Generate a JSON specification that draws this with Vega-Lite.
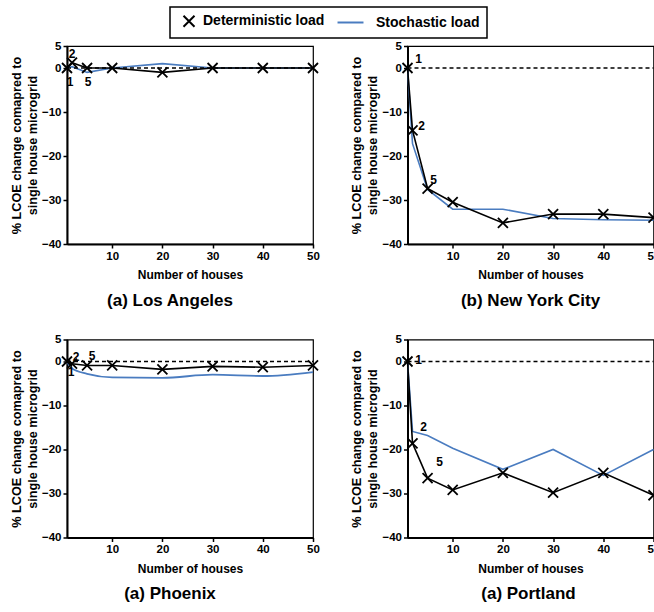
{
  "$schema": "https://vega.github.io/schema/vega-lite/v6.json",
  "padding": {"left": 9, "top": 6, "right": 0, "bottom": 0},
  "config": {
    "font": "Liberation Sans",
    "view": {"stroke": "black", "strokeWidth": 1.2},
    "axis": {
      "grid": false,
      "domainColor": "black",
      "domainWidth": 2,
      "tickColor": "black",
      "tickWidth": 1.5,
      "tickSize": 4,
      "labelColor": "black",
      "labelFontSize": 11.5,
      "labelFontWeight": "bold",
      "labelPadding": 2,
      "labelFlush": false,
      "titleColor": "black",
      "titleFontSize": 12,
      "titleFontWeight": "bold"
    },
    "axisX": {"titlePadding": 8},
    "axisY": {"titlePadding": 2, "titleLineHeight": 16, "titleFontSize": 12.7},
    "title": {"fontSize": 17, "fontWeight": "bold", "color": "black", "offset": 12},
    "legend": {
      "labelFontSize": 14,
      "labelFontWeight": "bold",
      "labelColor": "black",
      "symbolSize": 121,
      "symbolStrokeWidth": 2,
      "labelOffset": 7,
      "columnPadding": 8,
      "padding": 7,
      "strokeColor": "black",
      "strokeWidth": 1.5,
      "fillColor": "white"
    }
  },
  "datasets": {
    "lcoe": [
      {"city": "Los Angeles", "series": "Deterministic load", "houses": 1, "value": 0},
      {"city": "Los Angeles", "series": "Deterministic load", "houses": 2, "value": 1.2},
      {"city": "Los Angeles", "series": "Deterministic load", "houses": 5, "value": 0},
      {"city": "Los Angeles", "series": "Deterministic load", "houses": 10, "value": 0},
      {"city": "Los Angeles", "series": "Deterministic load", "houses": 20, "value": -1},
      {"city": "Los Angeles", "series": "Deterministic load", "houses": 30, "value": 0},
      {"city": "Los Angeles", "series": "Deterministic load", "houses": 40, "value": 0},
      {"city": "Los Angeles", "series": "Deterministic load", "houses": 50, "value": 0},
      {"city": "Los Angeles", "series": "Stochastic load", "houses": 1, "value": 0},
      {"city": "Los Angeles", "series": "Stochastic load", "houses": 2, "value": 0.3},
      {"city": "Los Angeles", "series": "Stochastic load", "houses": 5, "value": -1},
      {"city": "Los Angeles", "series": "Stochastic load", "houses": 10, "value": 0},
      {"city": "Los Angeles", "series": "Stochastic load", "houses": 20, "value": 1},
      {"city": "Los Angeles", "series": "Stochastic load", "houses": 30, "value": 0},
      {"city": "Los Angeles", "series": "Stochastic load", "houses": 40, "value": 0},
      {"city": "Los Angeles", "series": "Stochastic load", "houses": 50, "value": 0},
      {"city": "New York City", "series": "Deterministic load", "houses": 1, "value": 0},
      {"city": "New York City", "series": "Deterministic load", "houses": 2, "value": -14.2},
      {"city": "New York City", "series": "Deterministic load", "houses": 5, "value": -27.4},
      {"city": "New York City", "series": "Deterministic load", "houses": 10, "value": -30.5},
      {"city": "New York City", "series": "Deterministic load", "houses": 20, "value": -35.2},
      {"city": "New York City", "series": "Deterministic load", "houses": 30, "value": -33.2},
      {"city": "New York City", "series": "Deterministic load", "houses": 40, "value": -33.2},
      {"city": "New York City", "series": "Deterministic load", "houses": 50, "value": -34},
      {"city": "New York City", "series": "Stochastic load", "houses": 1, "value": 0},
      {"city": "New York City", "series": "Stochastic load", "houses": 2, "value": -17.2},
      {"city": "New York City", "series": "Stochastic load", "houses": 5, "value": -27.6},
      {"city": "New York City", "series": "Stochastic load", "houses": 10, "value": -32.1},
      {"city": "New York City", "series": "Stochastic load", "houses": 20, "value": -32.1},
      {"city": "New York City", "series": "Stochastic load", "houses": 30, "value": -34.2},
      {"city": "New York City", "series": "Stochastic load", "houses": 40, "value": -34.5},
      {"city": "New York City", "series": "Stochastic load", "houses": 50, "value": -34.6},
      {"city": "Phoenix", "series": "Deterministic load", "houses": 1, "value": 0},
      {"city": "Phoenix", "series": "Deterministic load", "houses": 2, "value": -0.5},
      {"city": "Phoenix", "series": "Deterministic load", "houses": 5, "value": -0.9},
      {"city": "Phoenix", "series": "Deterministic load", "houses": 10, "value": -0.9},
      {"city": "Phoenix", "series": "Deterministic load", "houses": 20, "value": -1.8},
      {"city": "Phoenix", "series": "Deterministic load", "houses": 30, "value": -1.1},
      {"city": "Phoenix", "series": "Deterministic load", "houses": 40, "value": -1.3},
      {"city": "Phoenix", "series": "Deterministic load", "houses": 50, "value": -0.9},
      {"city": "Phoenix", "series": "Stochastic load", "houses": 1, "value": 0},
      {"city": "Phoenix", "series": "Stochastic load", "houses": 2, "value": -1.6},
      {"city": "Phoenix", "series": "Stochastic load", "houses": 5, "value": -2.8},
      {"city": "Phoenix", "series": "Stochastic load", "houses": 10, "value": -3.6},
      {"city": "Phoenix", "series": "Stochastic load", "houses": 20, "value": -3.7},
      {"city": "Phoenix", "series": "Stochastic load", "houses": 30, "value": -3.0},
      {"city": "Phoenix", "series": "Stochastic load", "houses": 40, "value": -3.3},
      {"city": "Phoenix", "series": "Stochastic load", "houses": 50, "value": -2.4},
      {"city": "Portland", "series": "Deterministic load", "houses": 1, "value": 0},
      {"city": "Portland", "series": "Deterministic load", "houses": 2, "value": -18.6},
      {"city": "Portland", "series": "Deterministic load", "houses": 5, "value": -26.5},
      {"city": "Portland", "series": "Deterministic load", "houses": 10, "value": -29.2},
      {"city": "Portland", "series": "Deterministic load", "houses": 20, "value": -25.3},
      {"city": "Portland", "series": "Deterministic load", "houses": 30, "value": -29.8},
      {"city": "Portland", "series": "Deterministic load", "houses": 40, "value": -25.3},
      {"city": "Portland", "series": "Deterministic load", "houses": 50, "value": -30.4},
      {"city": "Portland", "series": "Stochastic load", "houses": 1, "value": 0},
      {"city": "Portland", "series": "Stochastic load", "houses": 2, "value": -15.9},
      {"city": "Portland", "series": "Stochastic load", "houses": 5, "value": -16.8},
      {"city": "Portland", "series": "Stochastic load", "houses": 10, "value": -19.7},
      {"city": "Portland", "series": "Stochastic load", "houses": 20, "value": -24.5},
      {"city": "Portland", "series": "Stochastic load", "houses": 30, "value": -20},
      {"city": "Portland", "series": "Stochastic load", "houses": 40, "value": -25.9},
      {"city": "Portland", "series": "Stochastic load", "houses": 50, "value": -20}
    ]
  },
  "columns": 2,
  "bounds": "flush",
  "spacing": {"row": 95.5, "column": 94.5},
  "concat": [
    {
      "width": 246,
      "height": 198,
      "data": {"name": "lcoe"},
      "transform": [{"filter": "datum.city === 'Los Angeles'"}],
      "title": {"text": "(a) Los Angeles", "orient": "bottom", "frame": "group", "dx": -20},
      "encoding": {
        "x": {"field": "houses", "type": "quantitative", "scale": {"domain": [1, 50], "nice": false, "zero": false}, "axis": {"values": [10, 20, 30, 40, 50], "title": "Number of houses"}},
        "y": {"field": "value", "type": "quantitative", "scale": {"domain": [-40, 5], "nice": false}, "axis": {"values": [5, 0, -10, -20, -30, -40], "title": ["% LCOE change comapred to", "single house microgrid"]}}
      },
      "layer": [
        {"transform": [{"filter": "datum.series === 'Stochastic load'"}], "mark": {"type": "line", "color": "#4a7cc0", "strokeWidth": 1.6}},
        {"transform": [{"filter": "datum.series === 'Deterministic load'"}], "mark": {"type": "line", "color": "black", "strokeWidth": 1.6}},
        {"transform": [{"filter": "datum.series === 'Deterministic load' && datum.houses === 1"}], "mark": {"type": "rule", "color": "black", "strokeDash": [4, 3], "strokeWidth": 1.5}, "encoding": {"x": {"datum": 1}, "x2": {"datum": 50}, "y": {"datum": 0}}},
        {
          "transform": [{"filter": "datum.series === 'Deterministic load'"}],
          "mark": {"type": "point", "filled": false, "size": 100, "strokeWidth": 1.8, "opacity": 1},
          "encoding": {
            "shape": {"field": "series", "type": "nominal", "scale": {"domain": ["Deterministic load", "Stochastic load"], "range": ["M-1,-1L1,1M-1,1L1,-1", "M-4.45,0L0.27,0"]}, "legend": {"title": "\u00a0", "titleOrient": "left", "titleFontSize": 1, "titlePadding": 5, "orient": "none", "legendX": 103, "legendY": -39, "direction": "horizontal", "labelExpr": "datum.label === 'Stochastic load' ? datum.label + '\u00a0\u00a0\u00a0' : datum.label"}},
            "color": {"field": "series", "type": "nominal", "scale": {"domain": ["Deterministic load", "Stochastic load"], "range": ["black", "#4a7cc0"]}, "legend": {"title": "\u00a0", "titleOrient": "left", "titleFontSize": 1, "titlePadding": 5, "orient": "none", "legendX": 103, "legendY": -39, "direction": "horizontal", "labelExpr": "datum.label === 'Stochastic load' ? datum.label + '\u00a0\u00a0\u00a0' : datum.label"}}
          }
        },
        {"transform": [{"filter": "datum.series === 'Deterministic load' && datum.houses === 1"}], "mark": {"type": "text", "dx": 3, "dy": 14, "fontSize": 12, "fontWeight": "bold", "color": "black"}, "encoding": {"text": {"field": "houses", "type": "quantitative"}}},
        {"transform": [{"filter": "datum.series === 'Deterministic load' && datum.houses === 2"}], "mark": {"type": "text", "dx": 0, "dy": -9, "fontSize": 12, "fontWeight": "bold", "color": "black"}, "encoding": {"text": {"field": "houses", "type": "quantitative"}}},
        {"transform": [{"filter": "datum.series === 'Deterministic load' && datum.houses === 5"}], "mark": {"type": "text", "dx": 1, "dy": 14, "fontSize": 12, "fontWeight": "bold", "color": "black"}, "encoding": {"text": {"field": "houses", "type": "quantitative"}}}
      ]
    },
    {
      "width": 246,
      "height": 198,
      "data": {"name": "lcoe"},
      "transform": [{"filter": "datum.city === 'New York City'"}],
      "title": {"text": "(b) New York City", "orient": "bottom", "frame": "group", "dx": 0},
      "encoding": {
        "x": {"field": "houses", "type": "quantitative", "scale": {"domain": [1, 50], "nice": false, "zero": false}, "axis": {"values": [10, 20, 30, 40, 50], "title": "Number of houses"}},
        "y": {"field": "value", "type": "quantitative", "scale": {"domain": [-40, 5], "nice": false}, "axis": {"values": [5, 0, -10, -20, -30, -40], "title": ["% LCOE change compared to", "single house microgrid"]}}
      },
      "layer": [
        {"transform": [{"filter": "datum.series === 'Stochastic load'"}], "mark": {"type": "line", "color": "#4a7cc0", "strokeWidth": 1.6}},
        {"transform": [{"filter": "datum.series === 'Deterministic load'"}], "mark": {"type": "line", "color": "black", "strokeWidth": 1.6}},
        {"transform": [{"filter": "datum.series === 'Deterministic load' && datum.houses === 1"}], "mark": {"type": "rule", "color": "black", "strokeDash": [4, 3], "strokeWidth": 1.5}, "encoding": {"x": {"datum": 1}, "x2": {"datum": 50}, "y": {"datum": 0}}},
        {"transform": [{"filter": "datum.series === 'Deterministic load'"}], "mark": {"type": "point", "filled": false, "size": 100, "strokeWidth": 1.8, "opacity": 1, "color": "black", "shape": "M-1,-1L1,1M-1,1L1,-1"}},
        {"transform": [{"filter": "datum.series === 'Deterministic load' && datum.houses === 1"}], "mark": {"type": "text", "dx": 11, "dy": -9, "fontSize": 12, "fontWeight": "bold", "color": "black"}, "encoding": {"text": {"field": "houses", "type": "quantitative"}}},
        {"transform": [{"filter": "datum.series === 'Deterministic load' && datum.houses === 2"}], "mark": {"type": "text", "dx": 9, "dy": -4, "fontSize": 12, "fontWeight": "bold", "color": "black"}, "encoding": {"text": {"field": "houses", "type": "quantitative"}}},
        {"transform": [{"filter": "datum.series === 'Deterministic load' && datum.houses === 5"}], "mark": {"type": "text", "dx": 6, "dy": -9, "fontSize": 12, "fontWeight": "bold", "color": "black"}, "encoding": {"text": {"field": "houses", "type": "quantitative"}}}
      ]
    },
    {
      "width": 246,
      "height": 198,
      "data": {"name": "lcoe"},
      "transform": [{"filter": "datum.city === 'Phoenix'"}],
      "title": {"text": "(a) Phoenix", "orient": "bottom", "frame": "group", "dx": -20},
      "encoding": {
        "x": {"field": "houses", "type": "quantitative", "scale": {"domain": [1, 50], "nice": false, "zero": false}, "axis": {"values": [10, 20, 30, 40, 50], "title": "Number of houses"}},
        "y": {"field": "value", "type": "quantitative", "scale": {"domain": [-40, 5], "nice": false}, "axis": {"values": [5, 0, -10, -20, -30, -40], "title": ["% LCOE change comapred to", "single house microgrid"]}}
      },
      "layer": [
        {"transform": [{"filter": "datum.series === 'Stochastic load'"}], "mark": {"type": "line", "color": "#4a7cc0", "strokeWidth": 1.8, "interpolate": "monotone"}},
        {"transform": [{"filter": "datum.series === 'Deterministic load'"}], "mark": {"type": "line", "color": "black", "strokeWidth": 1.6}},
        {"transform": [{"filter": "datum.series === 'Deterministic load' && datum.houses === 1"}], "mark": {"type": "rule", "color": "black", "strokeDash": [4, 3], "strokeWidth": 1.5}, "encoding": {"x": {"datum": 1}, "x2": {"datum": 50}, "y": {"datum": 0}}},
        {"transform": [{"filter": "datum.series === 'Deterministic load'"}], "mark": {"type": "point", "filled": false, "size": 100, "strokeWidth": 1.8, "opacity": 1, "color": "black", "shape": "M-1,-1L1,1M-1,1L1,-1"}},
        {"transform": [{"filter": "datum.series === 'Deterministic load' && datum.houses === 1"}], "mark": {"type": "text", "dx": 4, "dy": 10, "fontSize": 12, "fontWeight": "bold", "color": "black"}, "encoding": {"text": {"field": "houses", "type": "quantitative"}}},
        {"transform": [{"filter": "datum.series === 'Deterministic load' && datum.houses === 2"}], "mark": {"type": "text", "dx": 4, "dy": -7, "fontSize": 12, "fontWeight": "bold", "color": "black"}, "encoding": {"text": {"field": "houses", "type": "quantitative"}}},
        {"transform": [{"filter": "datum.series === 'Deterministic load' && datum.houses === 5"}], "mark": {"type": "text", "dx": 5, "dy": -9, "fontSize": 12, "fontWeight": "bold", "color": "black"}, "encoding": {"text": {"field": "houses", "type": "quantitative"}}}
      ]
    },
    {
      "width": 246,
      "height": 198,
      "data": {"name": "lcoe"},
      "transform": [{"filter": "datum.city === 'Portland'"}],
      "title": {"text": "(a) Portland", "orient": "bottom", "frame": "group", "dx": -2},
      "encoding": {
        "x": {"field": "houses", "type": "quantitative", "scale": {"domain": [1, 50], "nice": false, "zero": false}, "axis": {"values": [10, 20, 30, 40, 50], "title": "Number of houses"}},
        "y": {"field": "value", "type": "quantitative", "scale": {"domain": [-40, 5], "nice": false}, "axis": {"values": [5, 0, -10, -20, -30, -40], "title": ["% LCOE change compared to", "single house microgrid"]}}
      },
      "layer": [
        {"transform": [{"filter": "datum.series === 'Stochastic load'"}], "mark": {"type": "line", "color": "#4a7cc0", "strokeWidth": 1.6}},
        {"transform": [{"filter": "datum.series === 'Deterministic load'"}], "mark": {"type": "line", "color": "black", "strokeWidth": 1.6}},
        {"transform": [{"filter": "datum.series === 'Deterministic load' && datum.houses === 1"}], "mark": {"type": "rule", "color": "black", "strokeDash": [4, 3], "strokeWidth": 1.5}, "encoding": {"x": {"datum": 1}, "x2": {"datum": 50}, "y": {"datum": 0}}},
        {"transform": [{"filter": "datum.series === 'Deterministic load'"}], "mark": {"type": "point", "filled": false, "size": 100, "strokeWidth": 1.8, "opacity": 1, "color": "black", "shape": "M-1,-1L1,1M-1,1L1,-1"}},
        {"transform": [{"filter": "datum.series === 'Deterministic load' && datum.houses === 1"}], "mark": {"type": "text", "dx": 11, "dy": -2, "fontSize": 12, "fontWeight": "bold", "color": "black"}, "encoding": {"text": {"field": "houses", "type": "quantitative"}}},
        {"transform": [{"filter": "datum.series === 'Deterministic load' && datum.houses === 2"}], "mark": {"type": "text", "dx": 11, "dy": -16, "fontSize": 12, "fontWeight": "bold", "color": "black"}, "encoding": {"text": {"field": "houses", "type": "quantitative"}}},
        {"transform": [{"filter": "datum.series === 'Deterministic load' && datum.houses === 5"}], "mark": {"type": "text", "dx": 12, "dy": -16, "fontSize": 12, "fontWeight": "bold", "color": "black"}, "encoding": {"text": {"field": "houses", "type": "quantitative"}}}
      ]
    }
  ]
}
